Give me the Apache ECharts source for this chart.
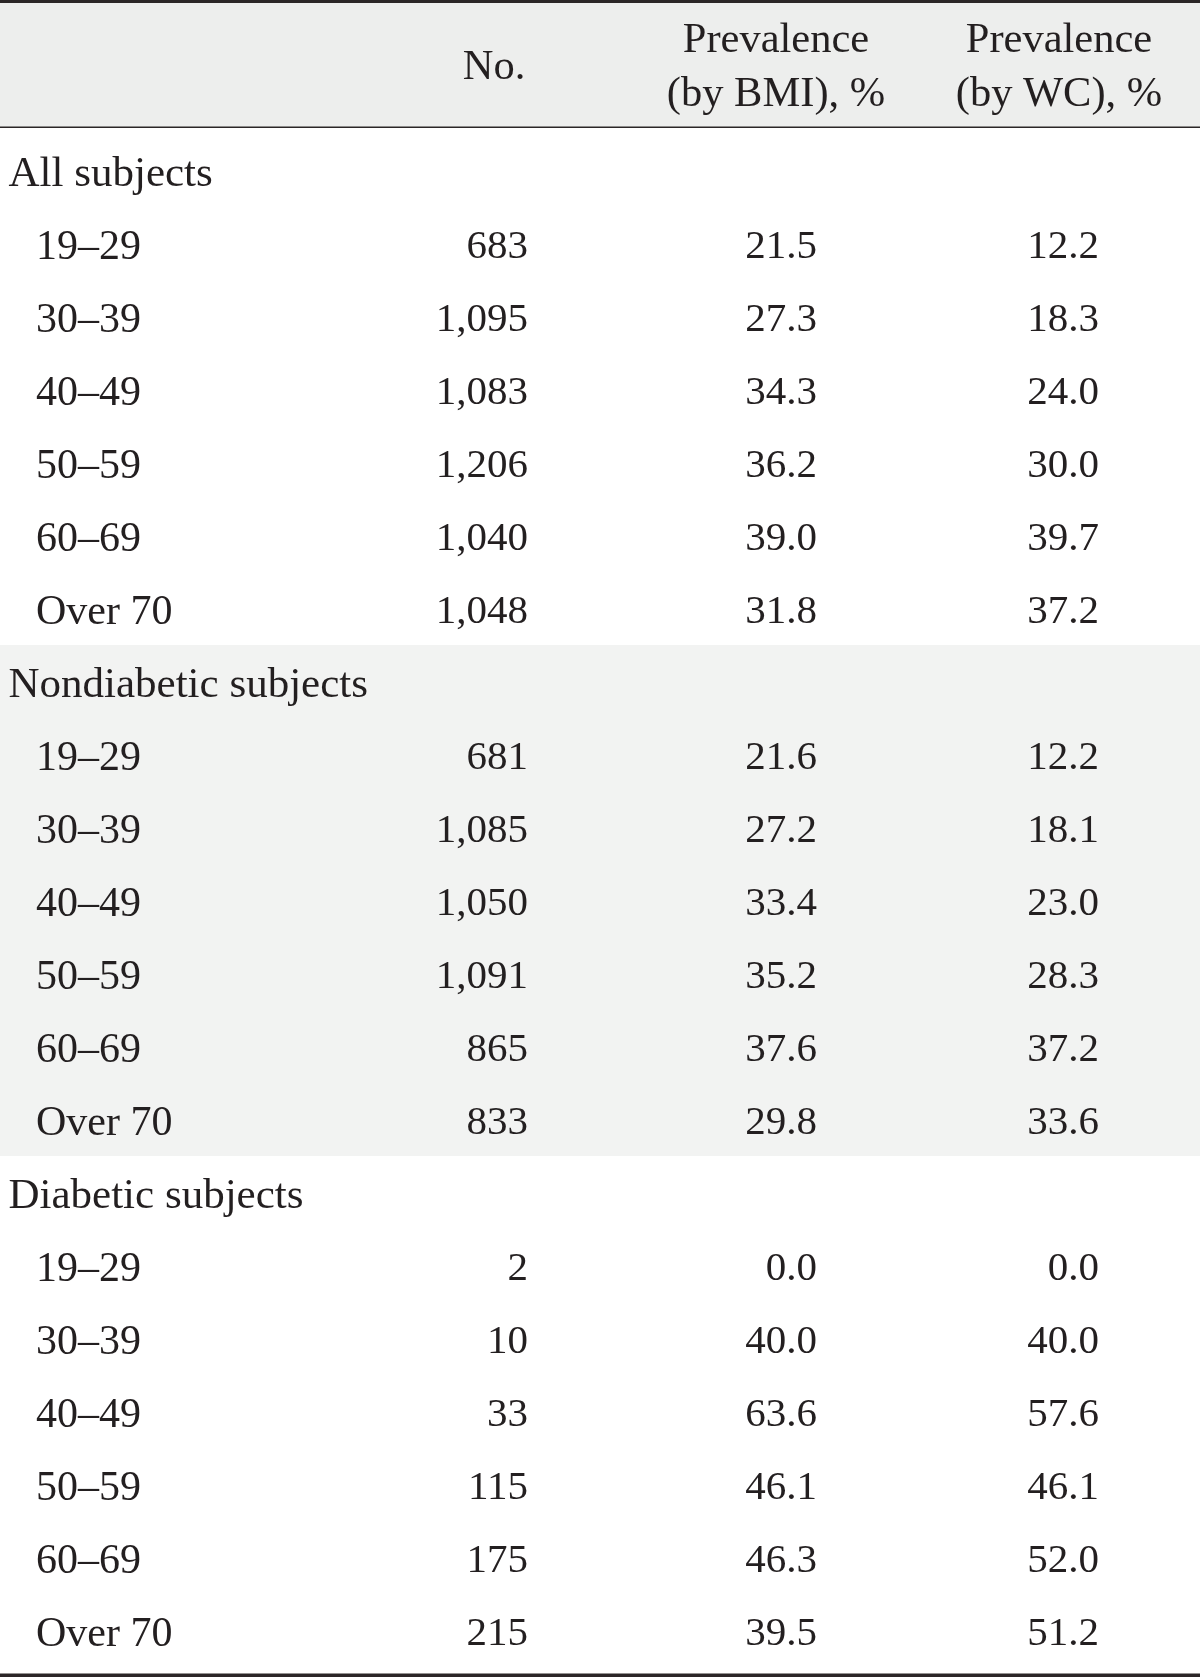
<!DOCTYPE html>
<html>
<head>
<meta charset="utf-8">
<script src="https://cdn.jsdelivr.net/npm/echarts@6/dist/echarts.min.js"></script>
<style>
  html, body { margin: 0; padding: 0; background: #ffffff; }
  #chart { width: 1200px; height: 1677px; }
</style>
</head>
<body>
<div id="chart"></div>
<script>
const headers = ['', 'No.', 'Prevalence\n(by BMI), %', 'Prevalence\n(by WC), %'];
const groups = ['All subjects', 'Nondiabetic subjects', 'Diabetic subjects'];
const shadedGroups = [false, true, false];
const ageBands = ['19–29', '30–39', '40–49', '50–59', '60–69', 'Over 70'];

const nAll = [683, 1095, 1083, 1206, 1040, 1048];
const bmiAll = [21.5, 27.3, 34.3, 36.2, 39.0, 31.8];
const wcAll = [12.2, 18.3, 24.0, 30.0, 39.7, 37.2];

const nNon = [681, 1085, 1050, 1091, 865, 833];
const bmiNon = [21.6, 27.2, 33.4, 35.2, 37.6, 29.8];
const wcNon = [12.2, 18.1, 23.0, 28.3, 37.2, 33.6];

const nDia = [2, 10, 33, 115, 175, 215];
const bmiDia = [0.0, 40.0, 63.6, 46.1, 46.3, 39.5];
const wcDia = [0.0, 40.0, 57.6, 46.1, 52.0, 51.2];

const groupCounts = [nAll, nNon, nDia];
const groupBmi = [bmiAll, bmiNon, bmiDia];
const groupWc = [wcAll, wcNon, wcDia];

// ---- Build table rows from the arrays ----
const columns = ['label', 'n', 'bmi', 'wc'];
const fmtN = v => v.toLocaleString('en-US');
const fmtP = v => v.toFixed(1);

const rows = [];
groups.forEach((g, gi) => {
  rows.push({ kind: 'group', texts: [g, '', '', ''], shaded: shadedGroups[gi] });
  ageBands.forEach((a, ai) => {
    rows.push({
      kind: 'age',
      texts: [a, fmtN(groupCounts[gi][ai]), fmtP(groupBmi[gi][ai]), fmtP(groupWc[gi][ai])],
      shaded: shadedGroups[gi]
    });
  });
});
const rowIds = rows.map((r, i) => String(i));

const cellData = [];
const cellText = [];
const cellKind = [];
rows.forEach((r, ri) => {
  r.texts.forEach((t, ci) => {
    if (t !== '') {
      cellData.push([ci, ri]);
      cellText.push(t);
      cellKind.push(r.kind);
    }
  });
});
// shaded group spans: [firstRow, lastRow]
const bandData = [];
let start = -1;
rows.forEach((r, ri) => {
  if (r.shaded && start < 0) start = ri;
  if (start >= 0 && (!r.shaded || ri === rows.length - 1)) {
    bandData.push([start, r.shaded ? ri : ri - 1]);
    start = -1;
  }
});
const headerData = headers.map((h, ci) => [ci, 0]);

// ---- Style / layout constants ----
const TEXT = '#231f20';
const RULE = '#2b2627';
const HEAD_BG = '#edeeed';
const BAND_BG = '#f2f3f2';
const SERIF = '"Liberation Serif", "DejaVu Serif", serif';
const anchor = [
  { align: 'left', dxGroup: -141.5, dxAge: -114 },
  { align: 'right', dx: 78 },
  { align: 'right', dx: 67 },
  { align: 'right', dx: 49 }
];
const headerDx = [0, 44, 26, 9];
const TEXT_DY = 4;

const chart = echarts.init(document.getElementById('chart'), null, { renderer: 'canvas' });

const option = {
  backgroundColor: '#ffffff',
  animation: false,
  grid: { left: 0, right: 0, top: 134, height: 1533 },
  xAxis: { type: 'category', data: columns, show: false, boundaryGap: true },
  yAxis: { type: 'category', data: rowIds, inverse: true, show: false, boundaryGap: true },
  graphic: [
    { type: 'rect', shape: { x: 0, y: 3, width: 1200, height: 124 }, style: { fill: HEAD_BG }, z: -10 },
    { type: 'rect', shape: { x: 0, y: 0, width: 1200, height: 3 }, style: { fill: RULE }, z: 10 },
    { type: 'rect', shape: { x: 0, y: 126.5, width: 1200, height: 1.5 }, style: { fill: RULE }, z: 10 },
    { type: 'rect', shape: { x: 0, y: 1673.5, width: 1200, height: 3.5 }, style: { fill: RULE }, z: 10 }
  ],
  series: [
    {
      type: 'custom',
      name: 'bands',
      z: 1,
      silent: true,
      clip: false,
      data: bandData,
      renderItem: function (params, api) {
        const a = api.coord([0, api.value(0)]);
        const b = api.coord([0, api.value(1)]);
        const h = api.size([0, 1])[1];
        const y0 = Math.round(a[1] - h / 2);
        const y1 = Math.round(b[1] + h / 2);
        return {
          type: 'rect',
          shape: { x: 0, y: y0, width: 1200, height: y1 - y0 },
          style: { fill: BAND_BG }
        };
      }
    },
    {
      type: 'custom',
      name: 'header',
      z: 5,
      silent: true,
      clip: false,
      data: headerData,
      renderItem: function (params, api) {
        const ci = api.value(0);
        const t = headers[ci];
        if (!t) return null;
        const c = api.coord([ci, 0]);
        const h = api.size([0, 1])[1];
        return {
          type: 'text',
          x: c[0] + headerDx[ci],
          y: c[1] - h / 2 - 66,
          style: {
            text: t,
            align: 'center',
            verticalAlign: 'middle',
            fontFamily: SERIF,
            fontSize: 42.5,
            lineHeight: 54.5,
            fill: TEXT
          }
        };
      }
    },
    {
      type: 'custom',
      name: 'cells',
      z: 5,
      silent: true,
      clip: false,
      data: cellData,
      renderItem: function (params, api) {
        const ci = api.value(0);
        const ri = api.value(1);
        const c = api.coord([ci, ri]);
        const kind = cellKind[params.dataIndex];
        const a = anchor[ci];
        const dx = ci === 0 ? (kind === 'group' ? a.dxGroup : a.dxAge) : a.dx;
        return {
          type: 'text',
          x: c[0] + dx,
          y: c[1] + TEXT_DY,
          style: {
            text: cellText[params.dataIndex],
            align: a.align,
            verticalAlign: 'middle',
            fontFamily: SERIF,
            fontSize: ci === 0 ? (kind === 'group' ? 43 : 42) : 41,
            fill: TEXT
          }
        };
      }
    }
  ]
};
chart.setOption(option);
</script>
</body>
</html>
